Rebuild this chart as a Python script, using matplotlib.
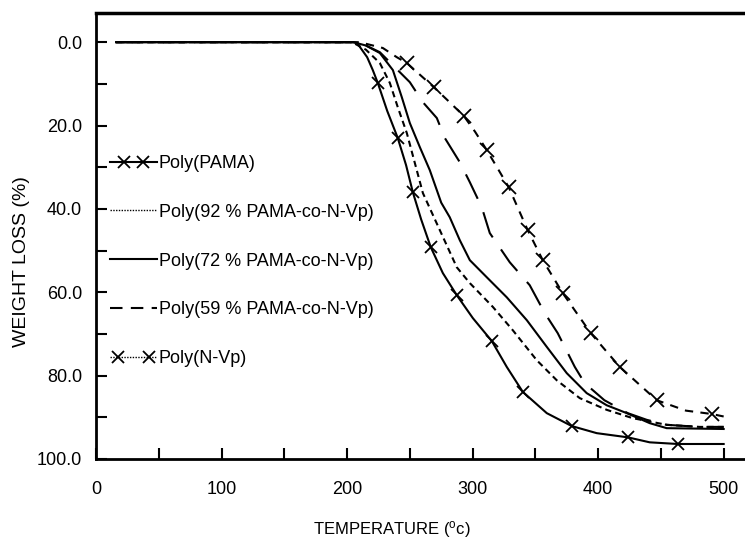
import matplotlib
matplotlib.use("Agg")
import matplotlib.pyplot as plt
from matplotlib.lines import Line2D
from matplotlib.legend_handler import HandlerLine2D, HandlerTuple
from matplotlib.ticker import MultipleLocator, FormatStrFormatter

plt.rcParams['font.family'] = ['Liberation Sans', 'DejaVu Sans']

# ---- data ----
labels = ["Poly(PAMA)", "Poly(92 % PAMA-co-N-Vp)", "Poly(72 % PAMA-co-N-Vp)",
          "Poly(59 % PAMA-co-N-Vp)", "Poly(N-Vp)"]

temp_pama = [16, 205, 208, 216, 220.5, 224.5, 232, 240.4, 247, 252.4, 259, 266.7, 276.3,
             287.4, 300.2, 315.3, 327.2, 340.0, 359.1, 379.0, 398.9, 423.6, 441.1, 463.4, 500]
loss_pama = [0, 0, 0.2, 3.6, 6.7, 9.8, 16.5, 23.0, 29.5, 36.0, 42.5, 49.2, 55.4,
             60.7, 66.2, 71.7, 77.9, 83.9, 89.0, 92.1, 93.8, 94.8, 96.0, 96.4, 96.4]
marks_pama = [224.5, 240.4, 252.4, 266.7, 287.4, 315.3, 340.0, 379.0, 423.6, 463.4]

temp_92 = [16, 204, 215, 226.1, 234.1, 240.4, 247.6, 254.0, 260.4, 273.9, 287.4, 297.8,
           316.1, 332.0, 351.1, 367.0, 385.4, 406.8, 427.5, 454.6, 480.9, 500]
loss_92 = [0, 0, 1.8, 5.0, 9.8, 15.6, 21.8, 29.0, 36.2, 45.1, 54.0, 57.8,
           63.5, 69.1, 76.3, 81.1, 85.4, 88.2, 90.2, 91.8, 92.3, 92.3]

temp_72 = [16, 205, 215, 226.1, 236.5, 243.6, 250.0, 258.0, 265.9, 275.0, 281.8, 289.8,
           297.8, 311.3, 327.2, 343.2, 359.1, 375.0, 390.9, 406.8, 422.8, 441.1, 454.6, 500]
loss_72 = [0, 0, 0.8, 2.6, 6.7, 13.2, 19.4, 25.2, 30.7, 38.5, 42.0, 47.5,
           52.3, 56.4, 61.2, 66.7, 73.1, 79.4, 84.2, 87.1, 89.0, 91.4, 92.6, 92.8]

temp_59 = [16, 204, 215, 226.1, 250.0, 260.4, 271.5, 277.9, 289.8, 297.8, 307.3, 313.7,
           329.6, 345.5, 357.5, 367.8, 381.4, 389.3, 405.0, 423.6, 438.7, 454.6, 481.0, 500]
loss_59 = [0, 0, 0.8, 2.4, 9.6, 14.4, 18.2, 23.0, 28.8, 33.6, 39.6, 45.8,
           52.8, 58.3, 65.0, 69.8, 77.9, 81.8, 85.9, 89.0, 90.6, 91.8, 92.3, 92.3]

temp_nvp = [16, 210, 228.5, 239.6, 247.6, 258, 269.1, 281, 293.0, 302, 311.3, 320, 328.8,
            343.9, 355.9, 371.8, 394.1, 417.2, 446.7, 470, 490.4, 500]
loss_nvp = [0, 0, 1.4, 3.6, 5.0, 7.8, 10.8, 14.2, 17.7, 21.5, 25.9, 30.3, 34.8,
            45.1, 52.3, 60.2, 69.8, 77.9, 85.9, 88.4, 89.2, 89.8]
marks_nvp = [247.6, 269.1, 293.0, 311.3, 328.8, 343.9, 355.9, 371.8, 394.1, 417.2, 446.7, 490.4]

x_ticks = [0, 100, 200, 300, 400, 500]
y_ticks = [0, 20, 40, 60, 80, 100]

# ---- figure ----
W, H = 745, 543
fig = plt.figure(figsize=(W / 100, H / 100), dpi=100)
ax = fig.add_axes([96 / W, 1 - 459 / H, 1 - 96 / W, (459 - 13) / H])

lw = 1.5
ax.plot(temp_pama, loss_pama, color='black', lw=lw, marker='x', ms=9, mew=1.3,
        markevery=[temp_pama.index(t) for t in marks_pama])
ax.plot(temp_92, loss_92, color='black', lw=lw, linestyle=(0, (3, 2)))
ax.plot(temp_72, loss_72, color='black', lw=lw, linestyle='-')
ax.plot(temp_59, loss_59, color='black', lw=lw, linestyle=(0, (13, 7)))
ax.plot(temp_nvp, loss_nvp, color='black', lw=lw, linestyle=(0, (4, 3.5)), marker='x', ms=10, mew=1.3,
        markevery=[temp_nvp.index(t) for t in marks_nvp])

ax.set_xlim(0, 517)
ax.set_ylim(100, -7)

ax.xaxis.set_minor_locator(MultipleLocator(50))
ax.yaxis.set_minor_locator(MultipleLocator(10))
ax.set_xticks(x_ticks)
ax.set_yticks(y_ticks)
ax.yaxis.set_major_formatter(FormatStrFormatter('%.1f'))

ax.tick_params(which='both', direction='in', length=8, width=1.5, labelsize=13)
ax.tick_params(axis='y', pad=10)
ax.tick_params(axis='x', pad=16)
ax.tick_params(top=False, right=False, which='both')

ax.spines['right'].set_visible(False)
for s in ('left', 'top', 'bottom'):
    ax.spines[s].set_linewidth(2)
ax.spines['top'].set_linewidth(2.5)

ax.set_xlabel(r"TEMPERATURE ($\mathregular{^{o}}$c)", fontsize=12, va='center')
ax.xaxis.set_label_coords((392 - 96) / (W - 96), -(529 - 459) / (459 - 13))
ax.set_ylabel("WEIGHT LOSS (%)", fontsize=14)
ax.yaxis.set_label_coords(-(96 - 30) / (W - 96), (459 - 262) / (459 - 13))

# legend (drawn with the line samples of the reference legend)
ln_pama = Line2D([], [], color='black', lw=1.5)
mk_pama = Line2D([], [], color='black', lw=0, marker='x', ms=9, mew=1.3)
ln_92 = Line2D([], [], color='black', lw=1.0, linestyle=(0, (1, 1)))
ln_72 = Line2D([], [], color='black', lw=1.5, linestyle='-')
ln_59 = Line2D([], [], color='black', lw=1.5, linestyle=(0, (6, 4)))
ln_nvp = Line2D([], [], color='black', lw=1.0, linestyle=(0, (1, 1)))
mk_nvp = Line2D([], [], color='black', lw=0, marker='x', ms=9, mew=1.3)

handles = [(ln_pama, mk_pama), ln_92, ln_72, ln_59, (ln_nvp, mk_nvp)]
hmap = {mk_pama: HandlerLine2D(numpoints=2, marker_pad=0.75),
        mk_nvp: HandlerLine2D(numpoints=2, marker_pad=0.45),
        tuple: HandlerTuple(ndivide=1, pad=0)}
leg = ax.legend(handles, labels, loc='upper left', frameon=False, fontsize=13,
                bbox_to_anchor=(110 / W, 1 - 155 / H), bbox_transform=fig.transFigure,
                borderpad=0, borderaxespad=0, handlelength=2.6, handletextpad=0.1,
                labelspacing=1.76, handler_map=hmap)

fig.savefig("out.png", dpi=100)
